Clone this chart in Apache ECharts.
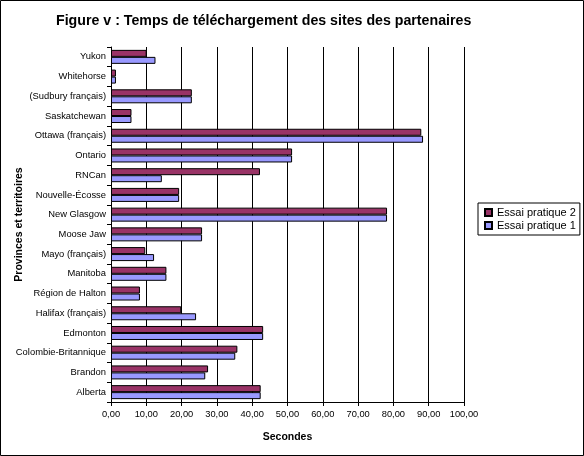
<!DOCTYPE html>
<html><head><meta charset="utf-8">
<script src="https://cdn.jsdelivr.net/npm/echarts@6/dist/echarts.min.js"></script>
<style>html,body{margin:0;padding:0;background:#fff}#c{width:584px;height:456px}</style>
</head><body><div id="c"></div>
<script>
const categories = ['Alberta','Brandon','Colombie-Britannique','Edmonton','Halifax (français)','Région de Halton','Manitoba','Mayo (français)','Moose Jaw','New Glasgow','Nouvelle-Écosse','RNCan','Ontario','Ottawa (français)','Saskatchewan','(Sudbury français)','Whitehorse','Yukon'];
const essai2 = [42.4,27.5,35.8,43.1,19.9,8.2,15.7,9.7,25.8,78.2,19.3,42.2,51.3,87.9,5.8,22.9,1.4,10.1];
const essai1 = [42.4,26.7,35.2,43.1,24.1,8.2,15.7,12.2,25.8,78.2,19.3,14.4,51.3,88.4,5.8,22.9,1.4,12.6];
const xTicks = {min:0,max:100,interval:10};
const chart = echarts.init(document.getElementById('c'));
const F = 'Liberation Sans, Arial, sans-serif';
chart.setOption({
  animation:false,
  title:{text:'Figure v : Temps de téléchargement des sites des partenaires',left:51,top:9,textStyle:{fontFamily:F,fontSize:14.2,fontWeight:'bold',color:'#000'}},
  legend:{data:['Essai pratique 2','Essai pratique 1'],orient:'vertical',left:478,top:203,itemWidth:7,itemHeight:7,itemGap:2,padding:[4,4,4,6],borderColor:'#000',borderWidth:1,textStyle:{fontFamily:F,fontSize:11,color:'#000'},icon:'rect'},
  graphic:[{type:'rect',shape:{x:0.5,y:0.5,width:583,height:455},style:{fill:'none',stroke:'#000',lineWidth:1},silent:true}],
  grid:{left:111,right:120,top:47,bottom:54,outerBoundsMode:'none',containLabel:false},
  xAxis:{type:'value',min:xTicks.min,max:xTicks.max,interval:xTicks.interval,
    name:'Secondes',nameLocation:'middle',nameGap:30,nameTextStyle:{fontFamily:F,fontSize:10.5,fontWeight:'bold',color:'#000'},
    axisLine:{show:true,lineStyle:{color:'#000'}},axisTick:{show:true,length:4,lineStyle:{color:'#000'}},
    axisLabel:{fontFamily:F,fontSize:9.3,color:'#000',margin:8,formatter:v=>v.toFixed(2).replace('.',',')},
    splitLine:{show:true,lineStyle:{color:'#000',width:1}}},
  yAxis:{type:'category',data:categories,
    name:'Provinces et territoires',nameLocation:'middle',nameGap:86,nameRotate:90,nameMoveOverlap:false,nameTextStyle:{fontFamily:F,fontSize:10.5,fontWeight:'bold',color:'#000'},
    axisLine:{lineStyle:{color:'#000'}},axisTick:{show:true,length:4,lineStyle:{color:'#000'}},
    axisLabel:{fontFamily:F,fontSize:9.4,color:'#000',margin:5}},
  series:[
    {name:'Essai pratique 2',type:'bar',data:essai2,barWidth:7,barGap:'0%',itemStyle:{color:'#993366',borderColor:'#000',borderWidth:1}},
    {name:'Essai pratique 1',type:'bar',data:essai1,barWidth:7,barGap:'0%',itemStyle:{color:'#9999ff',borderColor:'#000',borderWidth:1}}
  ]
});
</script></body></html>
